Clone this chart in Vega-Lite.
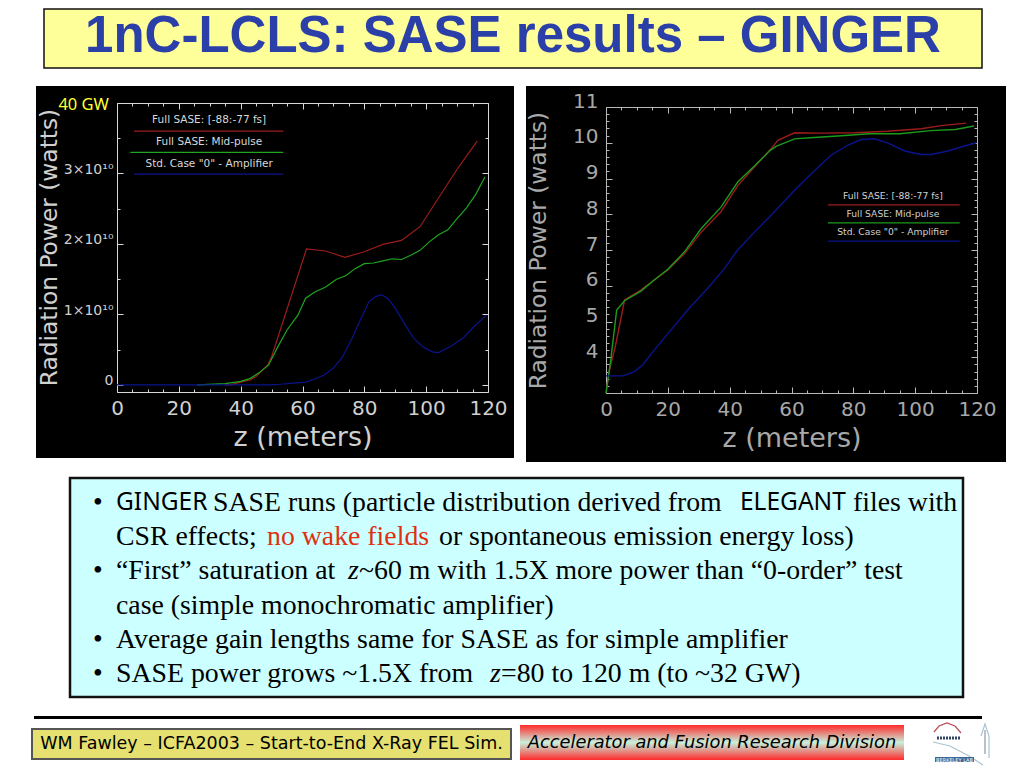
{
  "$schema": "https://vega.github.io/schema/vega-lite/v6.json",
  "background": "white",
  "padding": {"left": 31, "top": 8, "right": 0, "bottom": 0},
  "spacing": 0,
  "resolve": {"scale": {"color": "independent", "strokeWidth": "independent"}},
  "config": {
    "view": {"stroke": null},
    "font": "DejaVu Sans",
    "axis": {"grid": false, "labelFont": "DejaVu Sans", "titleFont": "DejaVu Sans", "titleFontWeight": "normal", "labelOverlap": false, "labelBound": false, "labelFlush": false}
  },
  "datasets": {
    "powerLeft": [
      {"series": "red", "z": 35, "power": 0}, {"series": "red", "z": 37, "power": 50000000}, {"series": "red", "z": 40, "power": 400000000}, {"series": "red", "z": 43, "power": 700000000}, {"series": "red", "z": 45, "power": 1200000000}, {"series": "red", "z": 48.7, "power": 2800000000}, {"series": "red", "z": 50, "power": 4000000000}, {"series": "red", "z": 61.3, "power": 19300000000}, {"series": "red", "z": 67.5, "power": 19000000000}, {"series": "red", "z": 73.7, "power": 18100000000}, {"series": "red", "z": 80, "power": 18900000000}, {"series": "red", "z": 86, "power": 19950000000}, {"series": "red", "z": 92, "power": 20500000000}, {"series": "red", "z": 98, "power": 22450000000}, {"series": "red", "z": 110, "power": 30600000000}, {"series": "red", "z": 116.5, "power": 34600000000},
      {"series": "green", "z": 26, "power": 0}, {"series": "green", "z": 35, "power": 200000000}, {"series": "green", "z": 40, "power": 500000000}, {"series": "green", "z": 43, "power": 900000000}, {"series": "green", "z": 46, "power": 1750000000}, {"series": "green", "z": 49, "power": 2800000000}, {"series": "green", "z": 52, "power": 5400000000}, {"series": "green", "z": 55, "power": 7800000000}, {"series": "green", "z": 58.5, "power": 9900000000}, {"series": "green", "z": 61, "power": 12300000000}, {"series": "green", "z": 64, "power": 13200000000}, {"series": "green", "z": 67.5, "power": 13900000000}, {"series": "green", "z": 71, "power": 15000000000}, {"series": "green", "z": 74, "power": 15500000000}, {"series": "green", "z": 77, "power": 16500000000}, {"series": "green", "z": 80, "power": 17200000000}, {"series": "green", "z": 83, "power": 17300000000}, {"series": "green", "z": 86, "power": 17600000000}, {"series": "green", "z": 89, "power": 17900000000}, {"series": "green", "z": 92, "power": 17800000000}, {"series": "green", "z": 95, "power": 18400000000}, {"series": "green", "z": 98, "power": 19100000000}, {"series": "green", "z": 101, "power": 20300000000}, {"series": "green", "z": 104, "power": 21300000000}, {"series": "green", "z": 107, "power": 22000000000}, {"series": "green", "z": 110, "power": 23600000000}, {"series": "green", "z": 113, "power": 25100000000}, {"series": "green", "z": 116, "power": 27000000000}, {"series": "green", "z": 119, "power": 29500000000},
      {"series": "blue", "z": 0, "power": 0}, {"series": "blue", "z": 25, "power": 0}, {"series": "blue", "z": 50, "power": 0}, {"series": "blue", "z": 53, "power": 100000000}, {"series": "blue", "z": 57, "power": 250000000}, {"series": "blue", "z": 61, "power": 400000000}, {"series": "blue", "z": 64, "power": 850000000}, {"series": "blue", "z": 67, "power": 1400000000}, {"series": "blue", "z": 70, "power": 2400000000}, {"series": "blue", "z": 73, "power": 4000000000}, {"series": "blue", "z": 76, "power": 6600000000}, {"series": "blue", "z": 79, "power": 9500000000}, {"series": "blue", "z": 81.5, "power": 11800000000}, {"series": "blue", "z": 83.5, "power": 12500000000}, {"series": "blue", "z": 85.5, "power": 12800000000}, {"series": "blue", "z": 87.5, "power": 12300000000}, {"series": "blue", "z": 90, "power": 10900000000}, {"series": "blue", "z": 93, "power": 8700000000}, {"series": "blue", "z": 96, "power": 6600000000}, {"series": "blue", "z": 99, "power": 5400000000}, {"series": "blue", "z": 102, "power": 4700000000}, {"series": "blue", "z": 104, "power": 4600000000}, {"series": "blue", "z": 108, "power": 5500000000}, {"series": "blue", "z": 112, "power": 6700000000}, {"series": "blue", "z": 116, "power": 8500000000}, {"series": "blue", "z": 119.5, "power": 9900000000}
    ],
    "powerRight": [
      {"series": "red", "z": 0, "power": 3}, {"series": "red", "z": 1, "power": 3.6}, {"series": "red", "z": 3, "power": 4.3}, {"series": "red", "z": 6, "power": 5.6}, {"series": "red", "z": 11.3, "power": 5.88}, {"series": "red", "z": 15.6, "power": 6.16}, {"series": "red", "z": 20, "power": 6.44}, {"series": "red", "z": 25.4, "power": 6.9}, {"series": "red", "z": 30.8, "power": 7.5}, {"series": "red", "z": 37.2, "power": 8.07}, {"series": "red", "z": 42.6, "power": 8.8}, {"series": "red", "z": 48, "power": 9.32}, {"series": "red", "z": 53.4, "power": 9.83}, {"series": "red", "z": 55.6, "power": 10.07}, {"series": "red", "z": 61, "power": 10.28}, {"series": "red", "z": 69.6, "power": 10.27}, {"series": "red", "z": 80.4, "power": 10.28}, {"series": "red", "z": 91, "power": 10.32}, {"series": "red", "z": 102, "power": 10.39}, {"series": "red", "z": 108.4, "power": 10.48}, {"series": "red", "z": 116.5, "power": 10.55},
      {"series": "green", "z": 0, "power": 3}, {"series": "green", "z": 1.5, "power": 3.9}, {"series": "green", "z": 3.45, "power": 5.32}, {"series": "green", "z": 6, "power": 5.58}, {"series": "green", "z": 11.3, "power": 5.85}, {"series": "green", "z": 15.6, "power": 6.16}, {"series": "green", "z": 20, "power": 6.46}, {"series": "green", "z": 25.4, "power": 6.95}, {"series": "green", "z": 30.8, "power": 7.6}, {"series": "green", "z": 37.2, "power": 8.2}, {"series": "green", "z": 42.6, "power": 8.9}, {"series": "green", "z": 48, "power": 9.35}, {"series": "green", "z": 53, "power": 9.78}, {"series": "green", "z": 55, "power": 9.9}, {"series": "green", "z": 61, "power": 10.11}, {"series": "green", "z": 66, "power": 10.14}, {"series": "green", "z": 75, "power": 10.19}, {"series": "green", "z": 85, "power": 10.25}, {"series": "green", "z": 95, "power": 10.25}, {"series": "green", "z": 105, "power": 10.34}, {"series": "green", "z": 113, "power": 10.37}, {"series": "green", "z": 119, "power": 10.47},
      {"series": "blue", "z": 0, "power": 3.48}, {"series": "blue", "z": 5.4, "power": 3.48}, {"series": "blue", "z": 9.2, "power": 3.6}, {"series": "blue", "z": 11.9, "power": 3.79}, {"series": "blue", "z": 15.6, "power": 4.2}, {"series": "blue", "z": 21, "power": 4.76}, {"series": "blue", "z": 26.4, "power": 5.32}, {"series": "blue", "z": 32.9, "power": 5.93}, {"series": "blue", "z": 38.3, "power": 6.48}, {"series": "blue", "z": 42.6, "power": 7}, {"series": "blue", "z": 48, "power": 7.5}, {"series": "blue", "z": 54.5, "power": 8.07}, {"series": "blue", "z": 61, "power": 8.67}, {"series": "blue", "z": 66.4, "power": 9.13}, {"series": "blue", "z": 72.8, "power": 9.65}, {"series": "blue", "z": 78.2, "power": 9.93}, {"series": "blue", "z": 82.5, "power": 10.09}, {"series": "blue", "z": 86.9, "power": 10.11}, {"series": "blue", "z": 91.2, "power": 9.99}, {"series": "blue", "z": 96.6, "power": 9.77}, {"series": "blue", "z": 102, "power": 9.67}, {"series": "blue", "z": 105.2, "power": 9.67}, {"series": "blue", "z": 110.6, "power": 9.77}, {"series": "blue", "z": 116, "power": 9.91}, {"series": "blue", "z": 119.8, "power": 10}
    ],
    "keyLeft": [
      {"series": "red", "label": "Full SASE: [-88:-77 fs]", "z": 5.5, "z2": 53.8, "zText": 29.8, "power": 36000000000, "powerText": 37550000000},
      {"series": "green", "label": "Full SASE: Mid-pulse", "z": 4.3, "z2": 53.8, "zText": 29.8, "power": 33000000000, "powerText": 34400000000},
      {"series": "blue", "label": "Std. Case \"0\" - Amplifier", "z": 5.5, "z2": 53.8, "zText": 29.8, "power": 29900000000, "powerText": 31400000000}
    ],
    "keyRight": [
      {"series": "red", "label": "Full SASE: [-88:-77 fs]", "z": 71.8, "z2": 114.4, "zText": 92.8, "power": 8.26, "powerText": 8.51},
      {"series": "green", "label": "Full SASE: Mid-pulse", "z": 71.8, "z2": 114.4, "zText": 92.8, "power": 7.76, "powerText": 8},
      {"series": "blue", "label": "Std. Case \"0\" - Amplifier", "z": 71.8, "z2": 114.4, "zText": 92.8, "power": 7.25, "powerText": 7.49}
    ],
    "bullets": [
      {"line": 1, "col": 23, "face": "serif", "text": "•"},
      {"line": 1, "col": 46, "face": "sans", "text": "GINGER"},
      {"line": 1, "col": 143, "face": "serif", "text": "SASE runs (particle distribution derived from"},
      {"line": 1, "col": 670, "face": "sans", "text": "ELEGANT"},
      {"line": 1, "col": 783, "face": "serif", "text": "files with"},
      {"line": 2, "col": 46, "face": "serif", "text": "CSR effects;"},
      {"line": 2, "col": 197, "face": "red", "text": "no wake fields"},
      {"line": 2, "col": 369, "face": "serif", "text": "or spontaneous emission energy loss)"},
      {"line": 3, "col": 23, "face": "serif", "text": "•"},
      {"line": 3, "col": 46, "face": "serif", "text": "“First” saturation at"},
      {"line": 3, "col": 278, "face": "italic", "text": "z"},
      {"line": 3, "col": 289, "face": "serif", "text": "~60 m with 1.5X more power than “0-order” test"},
      {"line": 4, "col": 46, "face": "serif", "text": "case (simple monochromatic amplifier)"},
      {"line": 5, "col": 23, "face": "serif", "text": "•"},
      {"line": 5, "col": 46, "face": "serif", "text": "Average gain lengths same for SASE as for simple amplifier"},
      {"line": 6, "col": 23, "face": "serif", "text": "•"},
      {"line": 6, "col": 46, "face": "serif", "text": "SASE power grows ~1.5X from"},
      {"line": 6, "col": 420, "face": "italic", "text": "z"},
      {"line": 6, "col": 431, "face": "serif", "text": "=80 to 120 m (to ~32 GW)"}
    ],
    "logo": [
      {"part": "dome", "a": 9, "b": 12}, {"part": "dome", "a": 14, "b": 6}, {"part": "dome", "a": 22, "b": 3}, {"part": "dome", "a": 30, "b": 6}, {"part": "dome", "a": 36, "b": 13},
      {"part": "hill", "a": 8, "b": 22}, {"part": "hill", "a": 25, "b": 26}, {"part": "hill", "a": 44, "b": 36}, {"part": "hill", "a": 58, "b": 45},
      {"part": "tower", "a": 60, "b": 10}, {"part": "tower", "a": 60, "b": 34},
      {"part": "tower2", "a": 56, "b": 16}, {"part": "tower2", "a": 60, "b": 4}, {"part": "tower2", "a": 64, "b": 16}, {"part": "tower2", "a": 64, "b": 38}
    ]
  },
  "vconcat": [
    {
      "spacing": 0,
      "hconcat": [
        {"width": 11, "height": 59, "data": {"values": []}, "mark": "rect"},
        {
          "width": 938,
          "height": 59,
          "view": {"fill": "#ffff99", "stroke": "#111111", "strokeWidth": 1.5},
          "data": {"values": [{"headline": "1nC-LCLS: SASE results – GINGER"}]},
          "mark": {"type": "text", "font": "Liberation Sans", "fontWeight": "bold", "fontSize": 51, "color": "#2b3fa8", "dy": -2},
          "encoding": {"text": {"field": "headline"}}
        }
      ]
    },
    {"width": 10, "height": 17, "data": {"values": []}, "mark": "rect"},
    {
      "spacing": 0,
      "resolve": {"scale": {"color": "independent", "strokeWidth": "independent"}},
      "hconcat": [
        {"width": 4, "height": 372, "data": {"values": []}, "mark": "rect"},
        {
          "width": 478,
          "height": 372,
          "view": {"fill": "black"},
          "resolve": {"axis": {"x": "independent", "y": "independent"}},
          "layer": [
            {
              "data": {"name": "powerLeft"},
              "mark": {"type": "line", "interpolate": "linear"},
              "encoding": {
                "x": {"field": "z", "type": "quantitative", "scale": {"domain": [0, 120], "range": [81, 452]},
                  "axis": {"orient": "bottom", "offset": -66, "title": "z (meters)", "titleColor": "#d0d0d0", "titleFontSize": 27, "titleBaseline": "alphabetic", "titleY": 53,
                    "values": [0, 5, 10, 15, 20, 25, 30, 35, 40, 45, 50, 55, 60, 65, 70, 75, 80, 85, 90, 95, 100, 105, 110, 115, 120],
                    "labelExpr": "datum.value % 20 === 0 ? datum.value : ''", "labelColor": "#d0d0d0", "labelFontSize": 20, "labelPadding": 12,
                    "domainColor": "#d8d8d8", "tickColor": "#d8d8d8", "tickSize": {"condition": {"test": "datum.value % 20 === 0", "value": -6}, "value": -3}}},
                "y": {"field": "power", "type": "quantitative", "scale": {"domain": [-1000000000, 40000000000], "range": [306, 17]},
                  "axis": {"orient": "left", "offset": -81, "title": "Radiation Power (watts)", "titleColor": "#d0d0d0", "titleFontSize": 23.3, "titleBaseline": "middle", "titleX": -68, "titleY": 161,
                    "values": [0, 5000000000, 10000000000, 15000000000, 20000000000, 25000000000, 30000000000, 35000000000, 40000000000],
                    "labelExpr": "datum.value === 0 ? '0' : (datum.value % 10000000000 === 0 && datum.value < 40000000000 ? (datum.value / 10000000000) + '×10¹⁰' : '')", "labelColor": "#d0d0d0", "labelFontSize": 14, "labelPadding": 10, "labelBaseline": "alphabetic",
                    "domainColor": "#d8d8d8", "tickColor": "#d8d8d8", "tickSize": {"condition": {"test": "datum.value % 10000000000 === 0", "value": -6}, "value": -3}}},
                "color": {"field": "series", "type": "nominal", "legend": null, "scale": {"domain": ["red", "green", "blue"], "range": ["#9c1c1c", "#1fa51f", "#0a148c"]}},
                "strokeWidth": {"field": "series", "type": "nominal", "legend": null, "scale": {"domain": ["red", "green", "blue"], "range": [1.2, 1.2, 2]}}
              }
            },
            {
              "data": {"name": "keyLeft"},
              "mark": {"type": "rule", "strokeWidth": 1.3},
              "encoding": {
                "x": {"field": "z", "type": "quantitative", "scale": {"domain": [0, 120], "range": [81, 452]},
                  "axis": {"orient": "top", "offset": -17, "title": null, "values": [0, 5, 10, 15, 20, 25, 30, 35, 40, 45, 50, 55, 60, 65, 70, 75, 80, 85, 90, 95, 100, 105, 110, 115, 120], "labels": false,
                    "domainColor": "#d8d8d8", "tickColor": "#d8d8d8", "tickSize": {"condition": {"test": "datum.value % 20 === 0", "value": -6}, "value": -3}}},
                "x2": {"field": "z2"},
                "y": {"field": "power", "type": "quantitative", "scale": {"domain": [-1000000000, 40000000000], "range": [306, 17]},
                  "axis": {"orient": "right", "offset": -26, "title": null, "values": [0, 5000000000, 10000000000, 15000000000, 20000000000, 25000000000, 30000000000, 35000000000, 40000000000], "labels": false,
                    "domainColor": "#d8d8d8", "tickColor": "#d8d8d8", "tickSize": {"condition": {"test": "datum.value % 10000000000 === 0", "value": -6}, "value": -3}}},
                "color": {"field": "series", "type": "nominal", "legend": null, "scale": {"domain": ["red", "green", "blue"], "range": ["#9c1c1c", "#1fa51f", "#0a148c"]}}
              }
            },
            {
              "data": {"name": "keyLeft"},
              "mark": {"type": "text", "fontSize": 10.5, "color": "#d8d8d8"},
              "encoding": {
                "x": {"field": "zText", "type": "quantitative", "axis": null, "scale": {"domain": [0, 120], "range": [81, 452]}},
                "y": {"field": "powerText", "type": "quantitative", "axis": null, "scale": {"domain": [-1000000000, 40000000000], "range": [306, 17]}},
                "text": {"field": "label"}
              }
            },
            {
              "data": {"values": [{"note": "40 GW", "z": -2.6, "power": 39700000000}]},
              "mark": {"type": "text", "font": "Noto Sans", "fontSize": 16.5, "color": "#ffff33", "align": "right"},
              "encoding": {
                "x": {"field": "z", "type": "quantitative", "axis": null, "scale": {"domain": [0, 120], "range": [81, 452]}},
                "y": {"field": "power", "type": "quantitative", "axis": null, "scale": {"domain": [-1000000000, 40000000000], "range": [306, 17]}},
                "text": {"field": "note"}
              }
            }
          ]
        },
        {"width": 12, "height": 372, "data": {"values": []}, "mark": "rect"},
        {
          "width": 480,
          "height": 376,
          "view": {"fill": "black"},
          "resolve": {"axis": {"x": "independent", "y": "independent"}},
          "layer": [
            {
              "data": {"name": "powerRight"},
              "mark": {"type": "line", "interpolate": "linear"},
              "encoding": {
                "x": {"field": "z", "type": "quantitative", "scale": {"domain": [0, 120], "range": [80, 451]},
                  "axis": {"orient": "bottom", "offset": -69, "title": "z (meters)", "titleColor": "#a8a8a8", "titleFontSize": 27, "titleBaseline": "alphabetic", "titleY": 53,
                    "values": [0, 5, 10, 15, 20, 25, 30, 35, 40, 45, 50, 55, 60, 65, 70, 75, 80, 85, 90, 95, 100, 105, 110, 115, 120],
                    "labelExpr": "datum.value % 20 === 0 ? datum.value : ''", "labelColor": "#a8a8a8", "labelFontSize": 20, "labelPadding": 12,
                    "domainColor": "#b8b8b8", "tickColor": "#b8b8b8", "tickSize": {"condition": {"test": "datum.value % 20 === 0", "value": -6}, "value": -3}}},
                "y": {"field": "power", "type": "quantitative", "scale": {"domain": [3, 11], "range": [307, 21]},
                  "axis": {"orient": "left", "offset": -80, "title": "Radiation Power (watts)", "titleColor": "#a8a8a8", "titleFontSize": 23.3, "titleBaseline": "middle", "titleX": -68, "titleY": 164,
                    "values": [3, 3.2, 3.4, 3.6, 3.8, 4, 4.2, 4.4, 4.6, 4.8, 5, 5.2, 5.4, 5.6, 5.8, 6, 6.2, 6.4, 6.6, 6.8, 7, 7.2, 7.4, 7.6, 7.8, 8, 8.2, 8.4, 8.6, 8.8, 9, 9.2, 9.4, 9.6, 9.8, 10, 10.2, 10.4, 10.6, 10.8, 11],
                    "labelExpr": "abs(datum.value - round(datum.value)) < 0.01 && datum.value > 3 ? round(datum.value) : ''", "labelColor": "#a8a8a8", "labelFontSize": 20, "labelPadding": 14, "labelBaseline": "alphabetic",
                    "domainColor": "#b8b8b8", "tickColor": "#b8b8b8", "tickSize": {"condition": {"test": "abs(datum.value - round(datum.value)) < 0.01", "value": -6}, "value": -3}}},
                "color": {"field": "series", "type": "nominal", "legend": null, "scale": {"domain": ["red", "green", "blue"], "range": ["#9c1c1c", "#1c9a1c", "#0a148c"]}},
                "strokeWidth": {"field": "series", "type": "nominal", "legend": null, "scale": {"domain": ["red", "green", "blue"], "range": [1.4, 1.4, 2]}}
              }
            },
            {
              "data": {"name": "keyRight"},
              "mark": {"type": "rule", "strokeWidth": 1.3},
              "encoding": {
                "x": {"field": "z", "type": "quantitative", "scale": {"domain": [0, 120], "range": [80, 451]},
                  "axis": {"orient": "top", "offset": -21, "title": null, "values": [0, 5, 10, 15, 20, 25, 30, 35, 40, 45, 50, 55, 60, 65, 70, 75, 80, 85, 90, 95, 100, 105, 110, 115, 120], "labels": false,
                    "domainColor": "#b8b8b8", "tickColor": "#b8b8b8", "tickSize": {"condition": {"test": "datum.value % 20 === 0", "value": -6}, "value": -3}}},
                "x2": {"field": "z2"},
                "y": {"field": "power", "type": "quantitative", "scale": {"domain": [3, 11], "range": [307, 21]},
                  "axis": {"orient": "right", "offset": -29, "title": null, "values": [3, 3.2, 3.4, 3.6, 3.8, 4, 4.2, 4.4, 4.6, 4.8, 5, 5.2, 5.4, 5.6, 5.8, 6, 6.2, 6.4, 6.6, 6.8, 7, 7.2, 7.4, 7.6, 7.8, 8, 8.2, 8.4, 8.6, 8.8, 9, 9.2, 9.4, 9.6, 9.8, 10, 10.2, 10.4, 10.6, 10.8, 11], "labels": false,
                    "domainColor": "#b8b8b8", "tickColor": "#b8b8b8", "tickSize": {"condition": {"test": "abs(datum.value - round(datum.value)) < 0.01", "value": -6}, "value": -3}}},
                "color": {"field": "series", "type": "nominal", "legend": null, "scale": {"domain": ["red", "green", "blue"], "range": ["#9c1c1c", "#1c9a1c", "#0a148c"]}}
              }
            },
            {
              "data": {"name": "keyRight"},
              "mark": {"type": "text", "fontSize": 9.2, "color": "#d0d0d0"},
              "encoding": {
                "x": {"field": "zText", "type": "quantitative", "axis": null, "scale": {"domain": [0, 120], "range": [80, 451]}},
                "y": {"field": "powerText", "type": "quantitative", "axis": null, "scale": {"domain": [3, 11], "range": [307, 21]}},
                "text": {"field": "label"}
              }
            }
          ]
        }
      ]
    },
    {"width": 10, "height": 14, "data": {"values": []}, "mark": "rect"},
    {
      "spacing": 0,
      "hconcat": [
        {"width": 36, "height": 219, "data": {"values": []}, "mark": "rect"},
        {
          "width": 893,
          "height": 219,
          "view": {"fill": "#ccffff", "stroke": "#111111", "strokeWidth": 2.5},
          "data": {"name": "bullets"},
          "encoding": {
            "x": {"field": "col", "type": "quantitative", "axis": null, "scale": {"domain": [0, 893], "range": [0, 893]}},
            "y": {"field": "line", "type": "ordinal", "axis": null, "scale": {"type": "point", "padding": 0, "domain": [1, 2, 3, 4, 5, 6], "range": [25, 196]}},
            "text": {"field": "text"}
          },
          "layer": [
            {"transform": [{"filter": "datum.face === 'serif'"}], "mark": {"type": "text", "font": "Liberation Serif", "fontSize": 27.8, "align": "left", "color": "black"}},
            {"transform": [{"filter": "datum.face === 'red'"}], "mark": {"type": "text", "font": "Liberation Serif", "fontSize": 27.8, "align": "left", "color": "#e03010"}},
            {"transform": [{"filter": "datum.face === 'italic'"}], "mark": {"type": "text", "font": "Liberation Serif", "fontStyle": "italic", "fontSize": 27.8, "align": "left", "color": "black"}},
            {"transform": [{"filter": "datum.face === 'sans'"}], "mark": {"type": "text", "font": "Noto Sans", "fontSize": 24.5, "align": "left", "color": "black"}}
          ]
        }
      ]
    },
    {"width": 10, "height": 17, "data": {"values": []}, "mark": "rect"},
    {
      "spacing": 0,
      "hconcat": [
        {"width": 2, "height": 3, "data": {"values": []}, "mark": "rect"},
        {"width": 948, "height": 3, "view": {"fill": "black"}, "data": {"values": []}, "mark": "rect"}
      ]
    },
    {"width": 10, "height": 1, "data": {"values": []}, "mark": "rect"},
    {
      "spacing": 0,
      "resolve": {"scale": {"color": "independent"}},
      "hconcat": [
        {
          "spacing": 0,
          "vconcat": [
            {"width": 479, "height": 8, "data": {"values": []}, "mark": "rect"},
            {
              "width": 479,
              "height": 30,
              "view": {"fill": "#e6e070", "stroke": "#555555", "strokeWidth": 2},
              "data": {"values": [{"footer": "WM Fawley – ICFA2003 – Start-to-End X-Ray FEL Sim."}]},
              "mark": {"type": "text", "font": "DejaVu Sans", "fontSize": 17.5, "color": "black"},
              "encoding": {"text": {"field": "footer"}}
            }
          ]
        },
        {"width": 8, "height": 35, "data": {"values": []}, "mark": "rect"},
        {
          "spacing": 0,
          "vconcat": [
            {"width": 384, "height": 5, "data": {"values": []}, "mark": "rect"},
            {
              "width": 384,
              "height": 35,
              "layer": [
                {
                  "data": {"values": [{"left": 0, "right": 1, "low": 0, "high": 1}]},
                  "mark": {"type": "rect", "color": {"gradient": "linear", "x1": 0, "y1": 0, "x2": 0, "y2": 1, "stops": [{"offset": 0, "color": "#ff2a2a"}, {"offset": 0.5, "color": "#c8f0dc"}, {"offset": 1, "color": "#ff2a2a"}]}},
                  "encoding": {
                    "x": {"field": "left", "type": "quantitative", "axis": null, "scale": {"domain": [0, 1]}},
                    "x2": {"field": "right"},
                    "y": {"field": "low", "type": "quantitative", "axis": null, "scale": {"domain": [0, 1]}},
                    "y2": {"field": "high"}
                  }
                },
                {
                  "data": {"values": [{"division": "Accelerator and Fusion Research Division"}]},
                  "mark": {"type": "text", "font": "DejaVu Sans", "fontStyle": "italic", "fontSize": 17.8, "color": "black"},
                  "encoding": {"text": {"field": "division"}}
                }
              ]
            }
          ]
        },
        {"width": 21, "height": 35, "data": {"values": []}, "mark": "rect"},
        {
          "width": 65,
          "height": 48,
          "data": {"name": "logo"},
          "layer": [
            {
              "mark": {"type": "line", "strokeWidth": 1.2},
              "encoding": {
                "x": {"field": "a", "type": "quantitative", "axis": null, "scale": {"domain": [0, 65], "range": [0, 65]}},
                "y": {"field": "b", "type": "quantitative", "axis": null, "scale": {"domain": [0, 48], "range": [0, 48]}},
                "detail": {"field": "part"},
                "color": {"field": "part", "type": "nominal", "legend": null, "scale": {"domain": ["dome", "hill", "tower", "tower2"], "range": ["#b84a5a", "#a8c4d4", "#8a9aa8", "#a8c4d4"]}}
              }
            },
            {
              "data": {"values": [{"a": 12, "a2": 36, "b": 18}]},
              "mark": {"type": "rule", "color": "#334466", "strokeWidth": 3, "strokeDash": [2, 1]},
              "encoding": {
                "x": {"field": "a", "type": "quantitative", "axis": null, "scale": {"domain": [0, 65], "range": [0, 65]}},
                "x2": {"field": "a2"},
                "y": {"field": "b", "type": "quantitative", "axis": null, "scale": {"domain": [0, 48], "range": [0, 48]}}
              }
            },
            {
              "data": {"values": [{"a": 10, "a2": 49, "b": 37, "b2": 42}]},
              "mark": {"type": "rect", "color": "#3a6a9a"},
              "encoding": {
                "x": {"field": "a", "type": "quantitative", "axis": null, "scale": {"domain": [0, 65], "range": [0, 65]}},
                "x2": {"field": "a2"},
                "y": {"field": "b", "type": "quantitative", "axis": null, "scale": {"domain": [0, 48], "range": [0, 48]}},
                "y2": {"field": "b2"}
              }
            },
            {
              "data": {"values": [{"a": 29.5, "b": 39.5, "tag": "BERKELEY LAB"}]},
              "mark": {"type": "text", "fontSize": 5, "color": "white"},
              "encoding": {
                "x": {"field": "a", "type": "quantitative", "axis": null, "scale": {"domain": [0, 65], "range": [0, 65]}},
                "y": {"field": "b", "type": "quantitative", "axis": null, "scale": {"domain": [0, 48], "range": [0, 48]}},
                "text": {"field": "tag"}
              }
            }
          ]
        }
      ]
    }
  ]
}
